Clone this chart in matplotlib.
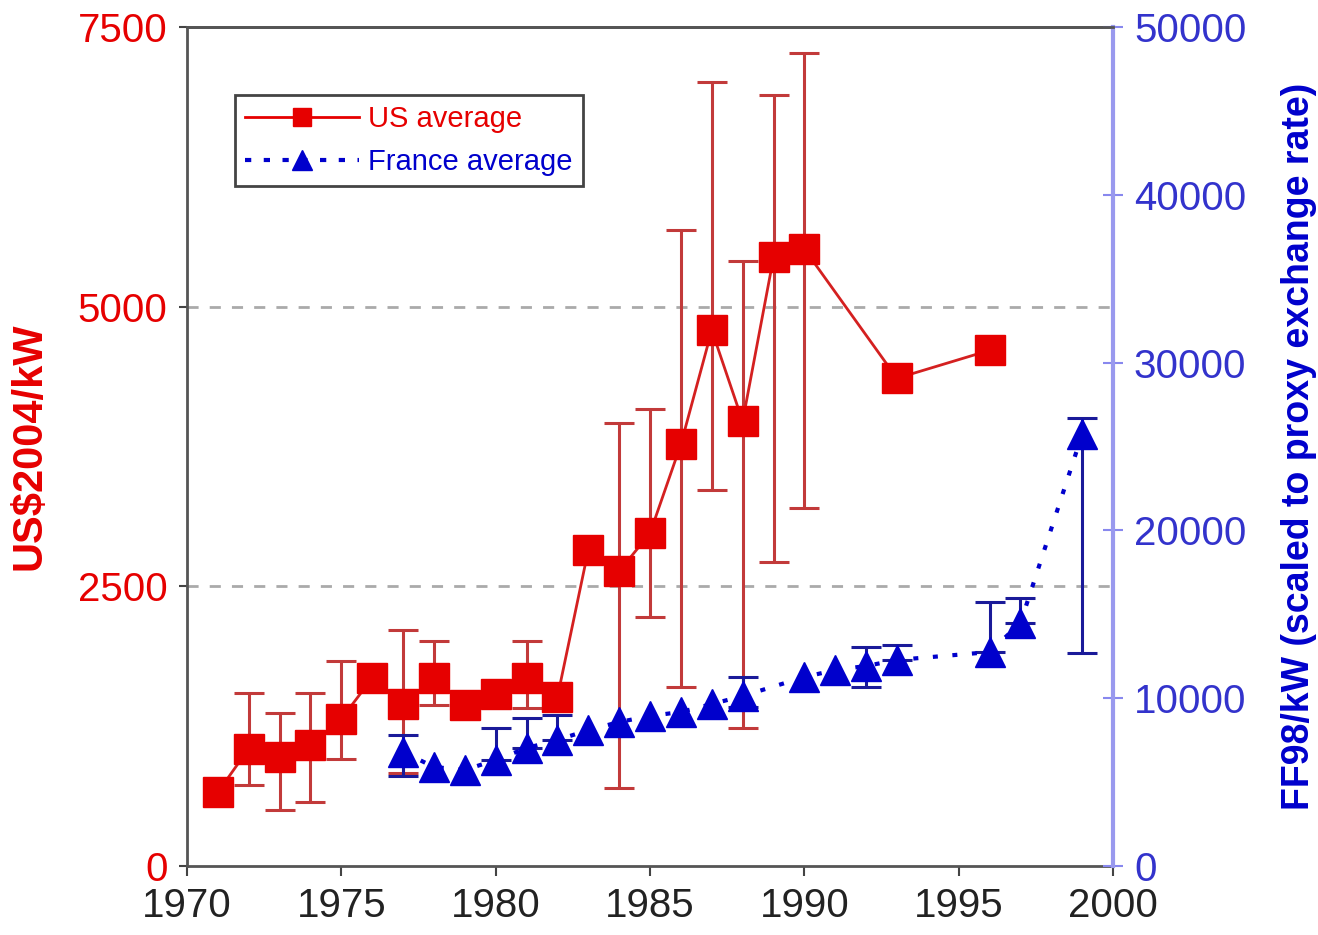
#!/usr/bin/env python
# -*- coding: utf-8 -*-

"""US and French nuclear construction costs, 1971-1999."""

import numpy as np
import matplotlib
matplotlib.use('Agg')
import matplotlib.pyplot as plt
from matplotlib.lines import Line2D

# US average, US$2004/kW (left axis); nan = no error bar drawn
us_year = [1971, 1972, 1973, 1974, 1975, 1976, 1977, 1978, 1979, 1980, 1981,
           1982, 1983, 1984, 1985, 1986, 1987, 1988, 1989, 1990, 1993, 1996]
us_cost = [660, 1050, 975, 1080, 1315, 1680, 1450, 1680, 1440, 1535, 1680,
           1510, 2825, 2635, 2975, 3770, 4790, 3975, 5440, 5515, 4360, 4610]
us_low = [np.nan, 725, 500, 570, 955, np.nan, 830, 1440, np.nan, np.nan, 1410,
          np.nan, np.nan, 700, 2225, 1600, 3360, 1235, 2715, 3200, np.nan, np.nan]
us_high = [np.nan, 1545, 1365, 1545, 1830, np.nan, 2110, 2010, np.nan, np.nan,
           2010, np.nan, np.nan, 3960, 4085, 5685, 7005, 5405, 6890, 7265,
           np.nan, np.nan]

# France average, FF98/kW (right axis)
fr_year = [1977, 1978, 1979, 1980, 1981, 1982, 1983, 1984, 1985, 1986, 1987,
           1988, 1990, 1991, 1992, 1993, 1996, 1997, 1999]
fr_cost = [6800, 5900, 5720, 6320, 7030, 7510, 8100, 8580, 8940, 9180, 9650,
           10130, 11260, 11680, 11920, 12280, 12750, 14480, 25740]
fr_low = [5360, np.nan, np.nan, np.nan, np.nan, np.nan, np.nan, np.nan, np.nan,
          np.nan, np.nan, 9500, np.nan, np.nan, 10670, np.nan, np.nan, np.nan,
          12720]
fr_high = [7810, np.nan, np.nan, 8220, 8820, 9000, np.nan, np.nan, np.nan,
           np.nan, np.nan, 11260, np.nan, np.nan, 13050, 13170, 15730, 15970,
           26700]

x_ticks = [1970, 1975, 1980, 1985, 1990, 1995, 2000]
left_ticks = [0, 2500, 5000, 7500]
right_ticks = [0, 10000, 20000, 30000, 40000, 50000]

RED = '#e60000'
RED_BAR = '#c23a3a'
BLUE = '#0000cc'
BLUE_BAR = '#1a1a99'


def draw_errors(ax, years, vals, lo, hi, color):
    years, vals = np.array(years), np.array(vals, float)
    lo, hi = np.array(lo, float), np.array(hi, float)
    m = ~(np.isnan(lo) & np.isnan(hi))
    lo = np.where(np.isnan(lo), vals, lo)
    hi = np.where(np.isnan(hi), vals, hi)
    err = [vals[m] - lo[m], hi[m] - vals[m]]
    ax.errorbar(years[m], vals[m], yerr=err, fmt='none', ecolor=color,
                elinewidth=2.2, capsize=11, capthick=2.2, zorder=2)


def main():
    plt.rcParams['font.family'] = ['Liberation Sans', 'DejaVu Sans']
    fig = plt.figure(figsize=(13.18, 9.35), dpi=100)
    ax = fig.add_axes([0.1419, 0.0738, 0.7026, 0.8973])
    ax2 = ax.twinx()

    ax.set_xlim(1970, 2000)
    ax.set_ylim(0, 7500)
    ax2.set_ylim(0, 50000)

    for v in (2500, 5000):
        ax.axhline(v, color='#aaaaaa', lw=2, ls=(0, (4, 4)), zorder=0)

    draw_errors(ax, us_year, us_cost, us_low, us_high, RED_BAR)
    ax.plot(us_year, us_cost, color='#d42020', lw=2, marker='s', ms=21,
            mfc=RED, mec=RED, zorder=3)

    draw_errors(ax2, fr_year, fr_cost, fr_low, fr_high, BLUE_BAR)
    ax2.plot(fr_year, fr_cost, color=BLUE, lw=3, ls=(0, (1.2, 3.5)),
             marker='^', ms=22, mfc=BLUE, mec=BLUE, zorder=3)

    ax.set_xticks(x_ticks)
    ax.set_yticks(left_ticks)
    ax2.set_yticks(right_ticks)
    ax.tick_params(axis='x', labelsize=29, direction='out', length=7,
                   width=1.5, colors='#444444', labelcolor='#222222', pad=8)
    ax.tick_params(axis='y', labelsize=29, direction='out', length=6,
                   width=1.5, colors='#444444', labelcolor=RED, pad=8)
    ax2.tick_params(axis='y', labelsize=29, direction='inout', length=14,
                    width=1.5, colors='#8888ee', labelcolor='#3333cc', pad=8)

    for s in ('left', 'bottom', 'top'):
        ax.spines[s].set_color('#555555')
        ax.spines[s].set_linewidth(2)
    ax2.spines['left'].set_visible(False)
    ax2.spines['bottom'].set_visible(False)
    ax2.spines['top'].set_color('#555555')
    ax2.spines['top'].set_linewidth(2)
    ax2.spines['right'].set_color('#9999ee')
    ax2.spines['right'].set_linewidth(3)

    ax.set_ylabel('US$2004/kW', color=RED, fontsize=30, fontweight='bold')
    ax.yaxis.set_label_coords(-0.148, 0.5)
    ax2.set_ylabel('FF98/kW (scaled to proxy exchange rate)', color=BLUE,
                   fontsize=27, fontweight='bold')
    ax2.yaxis.set_label_coords(1.181, 0.5)

    handles = [
        Line2D([], [], color=RED, lw=2, marker='s', ms=13, mfc=RED, mec=RED),
        Line2D([], [], color=BLUE, lw=3, ls=(0, (1.5, 3)), marker='^', ms=14,
               mfc=BLUE, mec=BLUE),
    ]
    leg = ax2.legend(handles, ['US average', 'France average'],
                     loc='upper left', bbox_to_anchor=(0.052, 0.919),
                     borderaxespad=0, fontsize=21, fancybox=False,
                     edgecolor='#444444', framealpha=1, handlelength=3.9,
                     handletextpad=0.3, borderpad=0.35, labelspacing=0.5)
    leg.get_frame().set_linewidth(2)
    for t, c in zip(leg.get_texts(), (RED, BLUE)):
        t.set_color(c)

    fig.savefig('out.png', dpi=100)


if __name__ == '__main__':
    main()
